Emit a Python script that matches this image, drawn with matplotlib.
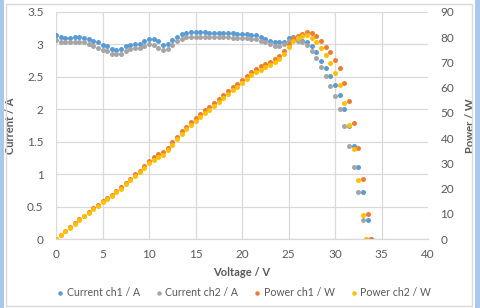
import matplotlib
matplotlib.use("Agg")
import matplotlib.pyplot as plt
from matplotlib.patches import Rectangle

# voltage points, V
v_ch1 = [0, 0.5, 1, 1.5, 2, 2.5, 3, 3.5, 4, 4.5, 5, 5.5, 6, 6.5, 7, 7.5, 8, 8.5, 9, 9.5,
         10, 10.5, 11, 11.5, 12, 12.5, 13, 13.5, 14, 14.5, 15, 15.5, 16, 16.5, 17, 17.5,
         18, 18.5, 19, 19.5, 20, 20.5, 21, 21.5, 22, 22.5, 23, 23.5, 24, 24.5, 25, 25.5,
         26, 26.5, 27, 27.5, 28, 28.5, 29, 29.5, 30, 30.5, 31, 31.5, 32, 32.5, 33, 33.5, 33.85]
v_ch2 = [0, 0.5, 1, 1.5, 2, 2.5, 3, 3.5, 4, 4.5, 5, 5.5, 6, 6.5, 7, 7.5, 8, 8.5, 9, 9.5,
         10, 10.5, 11, 11.5, 12, 12.5, 13, 13.5, 14, 14.5, 15, 15.5, 16, 16.5, 17, 17.5,
         18, 18.5, 19, 19.5, 20, 20.5, 21, 21.5, 22, 22.5, 23, 23.5, 24, 24.5, 25, 25.5,
         26, 26.5, 27, 27.5, 28, 28.5, 29, 29.5, 30, 30.5, 31, 31.5, 32, 32.5, 33, 33.35]

# current, A
i_ch1 = [3.15, 3.12, 3.10, 3.10, 3.12, 3.12, 3.10, 3.08, 3.06, 3.03, 2.99, 2.97, 2.93, 2.91,
         2.93, 2.97, 2.99, 3.01, 3.01, 3.05, 3.08, 3.08, 3.05, 2.99, 3.01, 3.07, 3.12, 3.16,
         3.18, 3.19, 3.19, 3.19, 3.19, 3.18, 3.18, 3.17, 3.17, 3.17, 3.17, 3.16, 3.16, 3.16,
         3.15, 3.14, 3.11, 3.08, 3.05, 3.03, 3.03, 3.04, 3.10, 3.12, 3.09, 3.06, 3.04, 2.97,
         2.88, 2.75, 2.63, 2.51, 2.37, 2.22, 2.00, 1.74, 1.44, 1.11, 0.72, 0.29, 0]
i_ch2 = [3.07, 3.04, 3.03, 3.03, 3.04, 3.04, 3.03, 3.00, 2.97, 2.95, 2.92, 2.90, 2.86, 2.85,
         2.86, 2.90, 2.93, 2.94, 2.94, 2.97, 3.00, 2.99, 2.95, 2.91, 2.93, 2.99, 3.05, 3.09,
         3.11, 3.12, 3.12, 3.12, 3.12, 3.11, 3.11, 3.11, 3.11, 3.11, 3.10, 3.10, 3.10, 3.10,
         3.09, 3.08, 3.05, 3.03, 3.00, 2.98, 2.98, 3.00, 3.05, 3.08, 3.06, 3.03, 2.99, 2.90,
         2.79, 2.65, 2.51, 2.36, 2.20, 2.00, 1.74, 1.44, 1.11, 0.72, 0.29, 0]

# power, W
p_ch1 = [0, 1.56, 3.10, 4.65, 6.24, 7.80, 9.30, 10.78, 12.24, 13.64, 14.95, 16.34, 17.58,
         18.92, 20.51, 22.28, 23.92, 25.59, 27.09, 28.98, 30.8, 32.34, 33.55, 34.39, 36.12,
         38.38, 40.56, 42.66, 44.52, 46.26, 47.85, 49.45, 51.04, 52.47, 54.06, 55.48, 57.06,
         58.65, 60.23, 61.62, 63.2, 64.78, 66.15, 67.51, 68.42, 69.3, 70.15, 71.21, 72.72,
         74.48, 77.5, 79.56, 80.34, 81.09, 82.08, 81.68, 80.64, 78.38, 76.27, 74.05, 71.1,
         67.71, 62.0, 54.81, 46.08, 36.08, 23.76, 9.72, 0]
p_ch2 = [0, 1.52, 3.03, 4.55, 6.08, 7.60, 9.09, 10.5, 11.88, 13.28, 14.6, 15.95, 17.16,
         18.53, 20.02, 21.75, 23.44, 24.99, 26.46, 28.22, 30.0, 31.40, 32.45, 33.47, 35.16,
         37.38, 39.65, 41.72, 43.54, 45.24, 46.8, 48.36, 49.92, 51.32, 52.87, 54.43, 55.98,
         57.54, 58.9, 60.45, 62.0, 63.55, 64.89, 66.22, 67.1, 68.18, 69.0, 70.03, 71.52,
         73.5, 76.25, 78.54, 79.56, 80.3, 80.73, 79.75, 78.12, 75.53, 72.79, 69.62, 66.0,
         61.0, 53.94, 45.36, 35.52, 23.4, 9.57, 0]

txt = '#595959'
grid = '#D9D9D9'
plt.rcParams['font.family'] = ['Lato', 'DejaVu Sans']

fig = plt.figure(figsize=(4.8, 3.08), dpi=100)
ax = fig.add_axes([56/480, 1-239/308, 372/480, 227/308])
ax2 = ax.twinx()

ms = 3.6
h1, = ax.plot(v_ch1, i_ch1, 'o', color='#5B9BD5', ms=ms, mew=0, label='Current ch1 / A')
h2, = ax.plot(v_ch2, i_ch2, 'o', color='#A5A5A5', ms=ms, mew=0, label='Current ch2 / A')
h3, = ax2.plot(v_ch1, p_ch1, 'o', color='#ED7D31', ms=ms, mew=0, label='Power ch1 / W')
h4, = ax2.plot(v_ch2, p_ch2, 'o', color='#FFC000', ms=ms, mew=0, label='Power ch2 / W')

ax.set_xlim(0, 40)
ax.set_ylim(0, 3.5)
ax2.set_ylim(0, 90)
ax.set_xticks(range(0, 41, 5))
ax.set_yticks([0, 0.5, 1, 1.5, 2, 2.5, 3, 3.5])
ax.set_yticklabels(['0', '0.5', '1', '1.5', '2', '2.5', '3', '3.5'])
ax2.set_yticks(range(0, 91, 10))

ax.grid(True, color=grid, lw=0.9)
ax.set_axisbelow(True)
ax.get_xgridlines()[-1].set_visible(False)
for a in (ax, ax2):
    for s in ('top', 'left', 'right'):
        a.spines[s].set_visible(False)
    a.spines['bottom'].set_color(grid)
    a.tick_params(length=0, labelsize=8.5, labelcolor=txt)
ax.tick_params(axis='y', pad=9)
ax.tick_params(axis='x', pad=7)
ax2.tick_params(axis='y', pad=9)

ax.set_xlabel('Voltage / V', fontsize=8, color=txt, fontweight='bold', labelpad=5)
ax.set_ylabel('Current / A', fontsize=8, color=txt, fontweight='bold', labelpad=8)
ax2.set_ylabel('Power / W', fontsize=8, color=txt, fontweight='bold', labelpad=8)

leg = fig.legend(handles=[h1, h2, h3, h4], loc='center', bbox_to_anchor=(243/480, 1-293/308),
                 ncol=4, frameon=False, fontsize=7.6, handletextpad=0.1, columnspacing=1.3,
                 handlelength=1.0, markerscale=0.9)
for t in leg.get_texts():
    t.set_color(txt)

# chart frame and side strips
fig.patches.append(Rectangle((6/480, 2/308), 466/480, 302/308, transform=fig.transFigure,
                             fill=False, edgecolor=grid, lw=1))
fig.patches.append(Rectangle((0, 0), 4/480, 1, transform=fig.transFigure,
                             facecolor='#A9C8EC', edgecolor='none'))
fig.patches.append(Rectangle((475/480, 0), 5/480, 1, transform=fig.transFigure,
                             facecolor='#A9C8EC', edgecolor='none'))

fig.savefig('out.png', dpi=100)
